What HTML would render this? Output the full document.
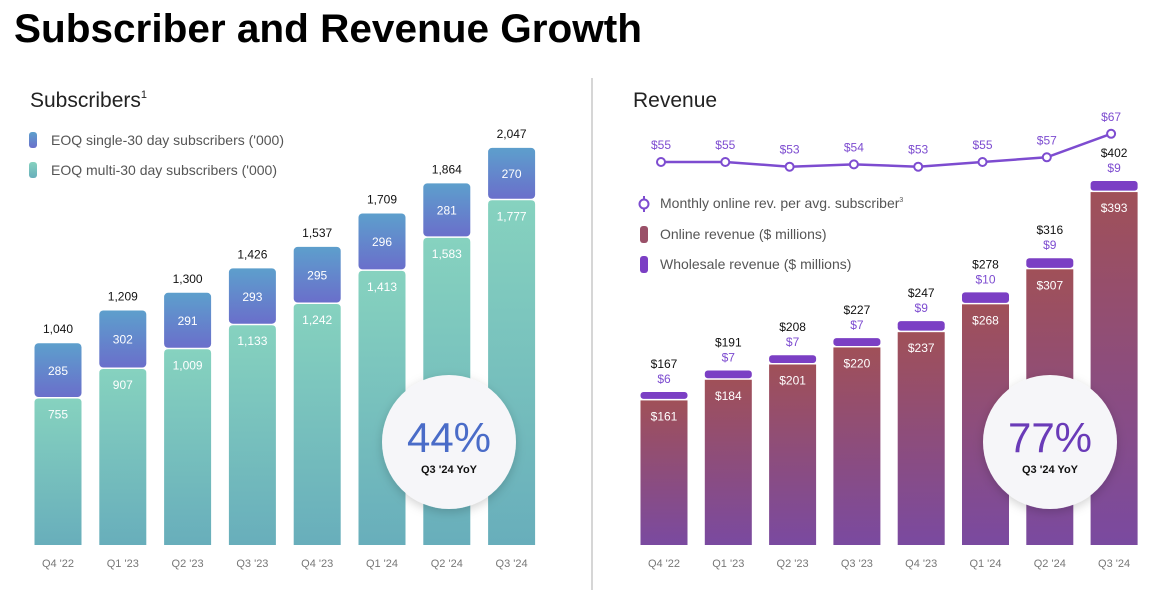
<!DOCTYPE html>
<html><head><meta charset="utf-8"><style>
html,body{margin:0;padding:0;background:#fff;}
svg{display:block;font-family:"Liberation Sans",sans-serif;}
</style></head><body>
<svg id="c" width="1160" height="590" viewBox="0 0 1160 590" xmlns="http://www.w3.org/2000/svg">
<defs>
<linearGradient id="gBlue" x1="0" y1="0" x2="0" y2="1"><stop offset="0" stop-color="#5d9fcc"/><stop offset="1" stop-color="#6a6fcb"/></linearGradient>
<linearGradient id="gTeal" x1="0" y1="0" x2="0" y2="1"><stop offset="0" stop-color="#86d2bf"/><stop offset="1" stop-color="#68aebb"/></linearGradient>
<linearGradient id="gRev" x1="0" y1="0" x2="0" y2="1"><stop offset="0" stop-color="#a05058"/><stop offset="1" stop-color="#7a4aa0"/></linearGradient>
<filter id="sh" x="-30%" y="-30%" width="160%" height="160%"><feDropShadow dx="0" dy="3" stdDeviation="5" flood-color="#000" flood-opacity="0.18"/></filter>
</defs>
<text x="14" y="42" font-size="40" font-weight="bold" textLength="628" lengthAdjust="spacingAndGlyphs" fill="#000">Subscriber and Revenue Growth</text>
<line x1="592" y1="78" x2="592" y2="590" stroke="#d6d6d6" stroke-width="2"/>
<text x="30" y="107" font-size="21" fill="#222">Subscribers<tspan font-size="11" dy="-9">1</tspan></text>
<rect x="29" y="132" width="8" height="16" rx="3" fill="url(#gBlue)"/>
<text x="51" y="145" font-size="14" fill="#555">EOQ single-30 day subscribers ('000)</text>
<rect x="29" y="162" width="8" height="16" rx="3" fill="url(#gTeal)"/>
<text x="51" y="175" font-size="14" fill="#555">EOQ multi-30 day subscribers  ('000)</text>
<text x="633" y="107" font-size="21" fill="#222">Revenue</text>
<line x1="644" y1="196" x2="644" y2="212" stroke="#7d4cd0" stroke-width="2"/>
<circle cx="644" cy="204" r="4.5" fill="#fff" stroke="#7d4cd0" stroke-width="2"/>
<text x="660" y="208" font-size="14" fill="#555">Monthly online rev. per avg. subscriber<tspan font-size="7" dy="-6">3</tspan></text>
<rect x="640" y="226" width="8" height="17" rx="3" fill="#9a5068"/>
<text x="660" y="239" font-size="14" fill="#555">Online revenue ($ millions)</text>
<rect x="640" y="256" width="8" height="17" rx="3" fill="#7b3fc4"/>
<text x="660" y="269" font-size="14" fill="#555">Wholesale revenue ($ millions)</text>
<g id="bars"></g>
</svg>
<script>
const categories = ["Q4 '22","Q1 '23","Q2 '23","Q3 '23","Q4 '23","Q1 '24","Q2 '24","Q3 '24"];
const singleSubs = [285,302,291,293,295,296,281,270];
const multiSubs = [755,907,1009,1133,1242,1413,1583,1777];
const totalSubs = ["1,040","1,209","1,300","1,426","1,537","1,709","1,864","2,047"];
const multiLabels = ["755","907","1,009","1,133","1,242","1,413","1,583","1,777"];
const onlineRev = [161,184,201,220,237,268,307,393];
const wholesaleRev = [6,7,7,7,9,10,9,9];
const totalRev = [167,191,208,227,247,278,316,402];
const arpu = [55,55,53,54,53,55,57,67];

const NS="http://www.w3.org/2000/svg";
const g=document.getElementById('bars');
function mk(tag,attrs,txt){const e=document.createElementNS(NS,tag);for(const k in attrs)e.setAttribute(k,attrs[k]);if(txt!==undefined)e.textContent=txt;g.appendChild(e);return e;}
const base=545, bw=47;
const lx=i=>58+i*64.8;
const ly=v=>base-v*0.194;
const rx=i=>664+i*64.3;
const ry=v=>base-v*0.898;
const ay=v=>162-(v-55)*2.35;

categories.forEach((c,i)=>{
  const x=lx(i);
  const yMid=ly(multiSubs[i]);
  const yTop=ly(multiSubs[i]+singleSubs[i]);
  let e=mk('path',{d:`M${x-bw/2},${base} V${yMid+4} Q${x-bw/2},${yMid} ${x-bw/2+4},${yMid} H${x+bw/2-4} Q${x+bw/2},${yMid} ${x+bw/2},${yMid+4} V${base} Z`,fill:'url(#gTeal)'});
  
  
  e=mk('rect',{x:x-bw/2,y:yTop,width:bw,height:yMid-yTop-1.5,rx:4,fill:'url(#gBlue)'});
  
  
  e=mk('text',{x:x,y:(yTop+yMid)/2+4,'font-size':12,fill:'#fff','text-anchor':'middle'},String(singleSubs[i]));
  
  
  e=mk('text',{x:x,y:yMid+20,'font-size':12,fill:'#fff','text-anchor':'middle'},multiLabels[i]);
  
  
  e=mk('text',{x:x,y:yTop-10,'font-size':12,fill:'#111','text-anchor':'middle'},totalSubs[i]);
  
  
  e=mk('text',{x:x,y:567,'font-size':11,fill:'#777','text-anchor':'middle'},c);
  
  

  const X=rx(i);
  const yOn=ry(onlineRev[i]);
  const yW=ry(onlineRev[i]+wholesaleRev[i])-3;
  e=mk('rect',{x:X-bw/2,y:yOn,width:bw,height:base-yOn,fill:'url(#gRev)'});
  
  
  e=mk('rect',{x:X-bw/2,y:yW,width:bw,height:yOn-yW-1.5,rx:3,fill:'#7b3fc4'});
  
  
  e=mk('text',{x:X,y:yOn+20,'font-size':12,fill:'#fff','text-anchor':'middle'},'$'+onlineRev[i]);
  
  
  e=mk('text',{x:X,y:yW-9,'font-size':12,fill:'#7d4cd0','text-anchor':'middle'},'$'+wholesaleRev[i]);
  
  
  e=mk('text',{x:X,y:yW-24,'font-size':12,fill:'#111','text-anchor':'middle'},'$'+totalRev[i]);
  
  
  e=mk('text',{x:X,y:567,'font-size':11,fill:'#777','text-anchor':'middle'},c);
  
  
});
let pl=mk('polyline',{points:arpu.map((v,i)=>rx(i)-3+','+ay(v)).join(' '),fill:'none',stroke:'#7d4cd0','stroke-width':2.5});


arpu.forEach((v,i)=>{
  let e=mk('circle',{cx:rx(i)-3,cy:ay(v),r:4,fill:'#fff',stroke:'#7d4cd0','stroke-width':2});
  
  
  e=mk('text',{x:rx(i)-3,y:ay(v)-13,'font-size':12,fill:'#7d4cd0','text-anchor':'middle'},'$'+v);
  
  
});
[[449,442,'44%','#4a6cc8','subs-yoy-badge'],[1050,442,'77%','#6a3bb8','rev-yoy-badge']].forEach(b=>{
  let e=mk('circle',{cx:b[0],cy:b[1],r:67,fill:'#f6f6f9',filter:'url(#sh)'});
  
  
  e=mk('text',{x:b[0],y:b[1]+10,'font-size':42,fill:b[3],'text-anchor':'middle'},b[2]);
  
  
  e=mk('text',{x:b[0],y:b[1]+31,'font-size':11,'font-weight':'bold',fill:'#111','text-anchor':'middle'},"Q3 '24 YoY");
  
  
});
</script>
</body></html>
